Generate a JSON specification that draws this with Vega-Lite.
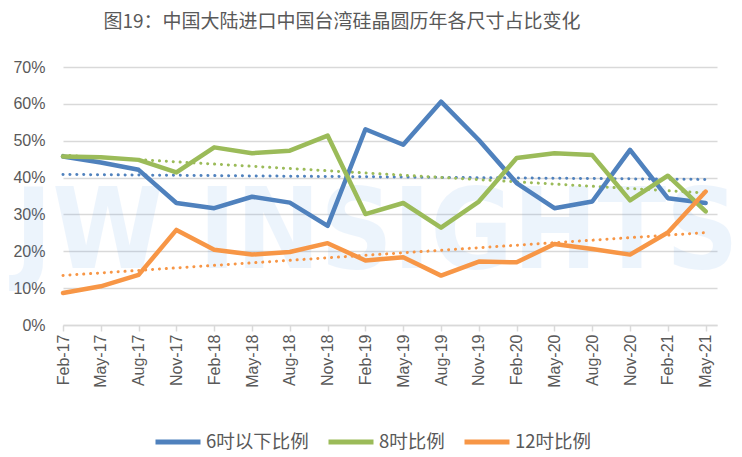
{
  "$schema": "https://vega.github.io/schema/vega-lite/v6.json",
  "description": "图19 中国大陆进口中国台湾硅晶圆历年各尺寸占比变化",
  "autosize": "none",
  "width": 654,
  "height": 258,
  "padding": {"left": 63, "top": 67, "right": 25, "bottom": 132},
  "background": "white",
  "title": {
    "text": "图19：中国大陆进口中国台湾硅晶圆历年各尺寸占比变化",
    "font": "Noto Sans CJK SC",
    "fontSize": 19,
    "fontWeight": "normal",
    "color": "#595959",
    "anchor": "middle",
    "dx": -48,
    "offset": 27
  },
  "config": {
    "view": {"stroke": null},
    "axis": {
      "labelColor": "#595959",
      "labelFont": "Liberation Sans",
      "domainColor": "#d9d9d9",
      "tickColor": "#d9d9d9",
      "gridColor": "#d9d9d9",
      "title": null
    }
  },
  "data": {
    "values": [
      {"q": 0, "label": "Feb-17", "6吋以下比例": 0.457, "8吋比例": 0.457, "12吋比例": 0.087},
      {"q": 1, "label": "May-17", "6吋以下比例": 0.441, "8吋比例": 0.455, "12吋比例": 0.105},
      {"q": 2, "label": "Aug-17", "6吋以下比例": 0.421, "8吋比例": 0.448, "12吋比例": 0.136},
      {"q": 3, "label": "Nov-17", "6吋以下比例": 0.331, "8吋比例": 0.414, "12吋比例": 0.258},
      {"q": 4, "label": "Feb-18", "6吋以下比例": 0.317, "8吋比例": 0.482, "12吋比例": 0.204},
      {"q": 5, "label": "May-18", "6吋以下比例": 0.348, "8吋比例": 0.466, "12吋比例": 0.191},
      {"q": 6, "label": "Aug-18", "6吋以下比例": 0.332, "8吋比例": 0.473, "12吋比例": 0.198},
      {"q": 7, "label": "Nov-18", "6吋以下比例": 0.269, "8吋比例": 0.514, "12吋比例": 0.222},
      {"q": 8, "label": "Feb-19", "6吋以下比例": 0.531, "8吋比例": 0.301, "12吋比例": 0.175},
      {"q": 9, "label": "May-19", "6吋以下比例": 0.489, "8吋比例": 0.331, "12吋比例": 0.184},
      {"q": 10, "label": "Aug-19", "6吋以下比例": 0.606, "8吋比例": 0.264, "12吋比例": 0.134},
      {"q": 11, "label": "Nov-19", "6吋以下比例": 0.502, "8吋比例": 0.335, "12吋比例": 0.172},
      {"q": 12, "label": "Feb-20", "6吋以下比例": 0.385, "8吋比例": 0.453, "12吋比例": 0.170},
      {"q": 13, "label": "May-20", "6吋以下比例": 0.317, "8吋比例": 0.466, "12吋比例": 0.220},
      {"q": 14, "label": "Aug-20", "6吋以下比例": 0.335, "8吋比例": 0.461, "12吋比例": 0.206},
      {"q": 15, "label": "Nov-20", "6吋以下比例": 0.475, "8吋比例": 0.338, "12吋比例": 0.191},
      {"q": 16, "label": "Feb-21", "6吋以下比例": 0.344, "8吋比例": 0.405, "12吋比例": 0.251},
      {"q": 17, "label": "May-21", "6吋以下比例": 0.331, "8吋比例": 0.308, "12吋比例": 0.362}
    ]
  },
  "encoding": {
    "x": {
      "field": "q",
      "type": "quantitative",
      "scale": {"domain": [0, 17.3], "nice": false, "zero": false},
      "axis": {
        "values": [0, 1, 2, 3, 4, 5, 6, 7, 8, 9, 10, 11, 12, 13, 14, 15, 16, 17],
        "labelExpr": "['Feb-17','May-17','Aug-17','Nov-17','Feb-18','May-18','Aug-18','Nov-18','Feb-19','May-19','Aug-19','Nov-19','Feb-20','May-20','Aug-20','Nov-20','Feb-21','May-21'][datum.value]",
        "labelAngle": -90,
        "labelFontSize": 16,
        "labelPadding": 3,
        "tickSize": 6,
        "domainWidth": 1.5,
        "tickWidth": 1.5,
        "grid": false
      }
    },
    "y": {
      "field": "value",
      "type": "quantitative",
      "scale": {"domain": [0, 0.7], "nice": false},
      "axis": {
        "values": [0, 0.1, 0.2, 0.3, 0.4, 0.5, 0.6, 0.7],
        "format": ".0%",
        "labelFontSize": 16,
        "labelPadding": 18,
        "domain": false,
        "ticks": false,
        "gridWidth": 1.5
      }
    }
  },
  "layer": [
    {
      "data": {"values": [{"text": "JW INSIGHTS", "wx": 8.3, "wy": 0.155}]},
      "mark": {
        "type": "text",
        "font": "DejaVu Sans Condensed, sans-serif",
        "fontWeight": "bold",
        "fontSize": 112,
        "fill": "#3b8de8",
        "opacity": 0.09,
        "align": "center",
        "baseline": "alphabetic"
      },
      "encoding": {
        "text": {"field": "text", "type": "nominal"},
        "x": {"field": "wx", "type": "quantitative"},
        "y": {"field": "wy", "type": "quantitative"}
      }
    },
    {
      "transform": [
        {"fold": ["6吋以下比例", "8吋比例", "12吋比例"], "as": ["series", "value"]},
        {"regression": "value", "on": "q", "groupby": ["series"]}
      ],
      "mark": {
        "type": "line",
        "strokeWidth": 3,
        "strokeDash": [0.1, 6.8],
        "strokeCap": "round"
      },
      "encoding": {
        "color": {
          "field": "series",
          "type": "nominal",
          "scale": {
            "domain": ["6吋以下比例", "8吋比例", "12吋比例"],
            "range": ["#4f81bd", "#9bbb59", "#f79646"]
          },
          "legend": {
            "title": null,
            "orient": "none",
            "direction": "horizontal",
            "legendX": 90,
            "legendY": 350,
            "symbolType": "stroke",
            "symbolSize": 2025,
            "symbolStrokeWidth": 5,
            "labelFont": "Noto Sans CJK SC",
            "labelFontSize": 18.5,
            "labelColor": "#595959",
            "labelOffset": 3,
            "columnPadding": 9,
            "labelLimit": 200
          }
        }
      }
    },
    {
      "transform": [
        {"fold": ["6吋以下比例", "8吋比例", "12吋比例"], "as": ["series", "value"]}
      ],
      "mark": {"type": "line", "strokeWidth": 4.5, "strokeJoin": "round", "strokeCap": "round"},
      "encoding": {
        "color": {
          "field": "series",
          "type": "nominal",
          "scale": {
            "domain": ["6吋以下比例", "8吋比例", "12吋比例"],
            "range": ["#4f81bd", "#9bbb59", "#f79646"]
          },
          "legend": {
            "title": null,
            "orient": "none",
            "direction": "horizontal",
            "legendX": 90,
            "legendY": 350,
            "symbolType": "stroke",
            "symbolSize": 2025,
            "symbolStrokeWidth": 5,
            "labelFont": "Noto Sans CJK SC",
            "labelFontSize": 18.5,
            "labelColor": "#595959",
            "labelOffset": 3,
            "columnPadding": 9,
            "labelLimit": 200
          }
        }
      }
    }
  ]
}
